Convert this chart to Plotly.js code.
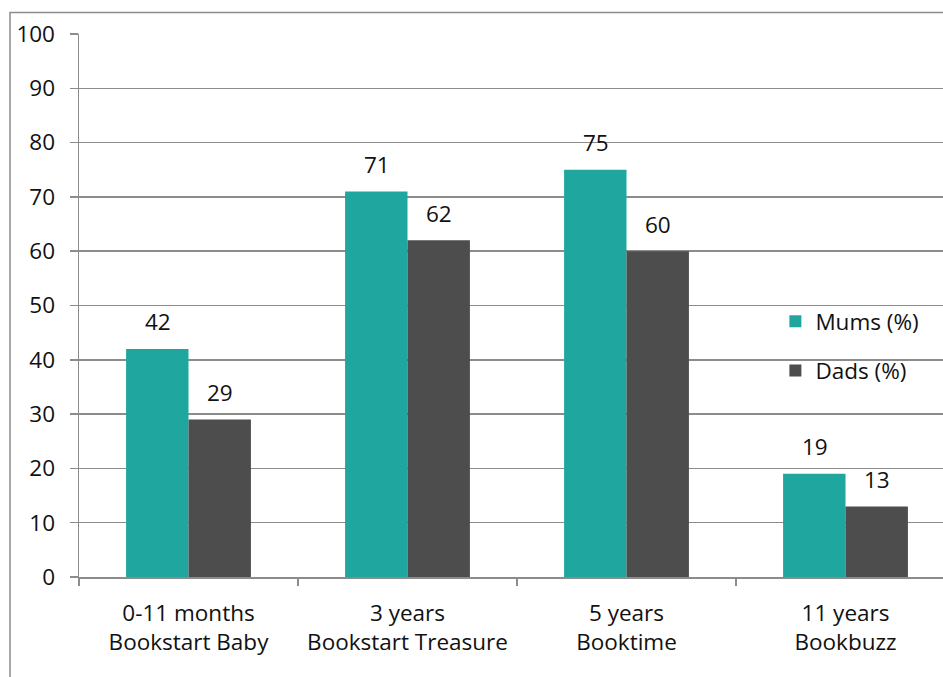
<!DOCTYPE html>
<html>
<head>
<meta charset="utf-8">
<script src="https://cdn.plot.ly/plotly-3.0.1.min.js"></script>
<style>
  html, body { margin: 0; padding: 0; background: #fff; }
  #chart { width: 943px; height: 677px; }
</style>
</head>
<body>
<div id="chart"></div>
<script>
// Share of parents reading with their child, by Bookstart / Booktime / Bookbuzz stage
const categories = [
  '0-11 months<br>Bookstart Baby',
  '3 years<br>Bookstart Treasure',
  '5 years<br>Booktime',
  '11 years<br>Bookbuzz'
];
const mums = [42, 71, 75, 19];
const dads = [29, 62, 60, 13];
const seriesNames = ['Mums (%)', 'Dads (%)'];
const yTicks = [0, 10, 20, 30, 40, 50, 60, 70, 80, 90, 100];

const FONT = '"Open Sans", sans-serif';
const FSIZE = 22.5;
const TEAL = '#1fa69e';
const DARK = '#4d4d4d';
const GRID = '#8c8c8c';

const traces = [
  { type: 'bar', name: seriesNames[0], x: categories, y: mums,
    marker: { color: TEAL }, legendgroup: 'm', hoverinfo: 'skip' },
  { type: 'bar', name: seriesNames[1], x: categories, y: dads,
    marker: { color: DARK }, legendgroup: 'd', hoverinfo: 'skip' }
];

// value labels floating above each bar
const barShift = 31;
const annotations = [];
[mums, dads].forEach((vals, s) => {
  vals.forEach((v, i) => {
    annotations.push({
      x: categories[i], y: v, xref: 'x', yref: 'y',
      text: String(v), showarrow: false,
      xshift: s === 0 ? -barShift : barShift,
      yshift: 27, yanchor: 'middle',
      font: { family: FONT, size: FSIZE, color: '#111' }
    });
  });
});

// outer chart-area frame
const shapes = [{
  type: 'rect', xref: 'paper', yref: 'paper',
  x0: (10 - 79) / 864, x1: 1.2, y0: -0.4, y1: (577 - 12.5) / 543,
  line: { color: '#8c8c8c', width: 1.5 }, fillcolor: 'rgba(0,0,0,0)', layer: 'below'
}];

const layout = {
  width: 943, height: 677,
  margin: { l: 79, r: 0, t: 34, b: 100, pad: 0 },
  paper_bgcolor: '#fff', plot_bgcolor: '#fff',
  barmode: 'group', bargap: 0.43, bargroupgap: 0,
  showlegend: true,
  legend: {
    x: 0.806, y: 0.51, xanchor: 'left', yanchor: 'top',
    font: { family: FONT, size: FSIZE, color: '#111' },
    tracegroupgap: 17, bgcolor: 'rgba(0,0,0,0)', itemwidth: 30
  },
  font: { family: FONT, size: FSIZE, color: '#111' },
  xaxis: {
    type: 'category', range: [-0.5, 3.5 - 12 / 219],
    showgrid: false, showline: true, linecolor: GRID, linewidth: 1.5,
    ticks: 'outside', tickson: 'boundaries', ticklen: 7, tickcolor: GRID, tickwidth: 1.5,
    ticklabelstandoff: 15,
    tickfont: { family: FONT, size: FSIZE, color: '#111' }
  },
  yaxis: {
    range: [0, 100], tickvals: yTicks, ticktext: yTicks.map(String),
    showgrid: true, gridcolor: GRID, gridwidth: 1.5,
    showline: true, linecolor: GRID, linewidth: 1.5,
    ticks: 'outside', ticklen: 8, tickcolor: GRID, tickwidth: 1.5,
    ticklabelstandoff: 10, zeroline: false,
    tickfont: { family: FONT, size: FSIZE, color: '#111' }
  },
  annotations: annotations,
  shapes: shapes
};

Plotly.newPlot('chart', traces, layout, { displayModeBar: false, staticPlot: true });
</script>
</body>
</html>
